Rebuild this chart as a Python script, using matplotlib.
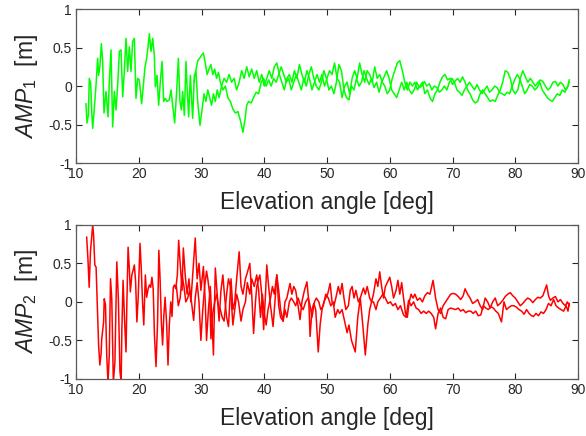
import numpy as np
import matplotlib
matplotlib.use('Agg')
from matplotlib import pyplot as plt

plt.rcParams['font.family'] = ['Liberation Sans', 'DejaVu Sans']
plt.rcParams['mathtext.fontset'] = 'custom'
plt.rcParams['mathtext.rm'] = 'Liberation Sans'
plt.rcParams['mathtext.it'] = 'Liberation Sans:italic'

# ---- AMP1 : first pass (starts at low elevation)
amp1_a_el = [11.59, 11.75, 11.97, 12.12, 12.34, 12.5, 12.66, 12.92, 13.19, 13.45, 13.61, 13.82, 14.04, 14.25,
             14.46, 14.78, 15.1, 15.31, 15.58, 15.84, 16.11, 16.37, 16.64, 16.91, 17.17, 17.44, 17.7, 17.97,
             18.23, 18.5, 18.76, 19.03, 19.3, 19.56, 19.83, 20.09, 20.46, 20.78, 21.0, 21.26, 21.42, 21.69,
             21.95, 22.22, 22.48, 22.64, 22.91, 23.17, 23.44, 23.71, 23.97, 24.24, 24.5, 24.87, 25.14, 25.4,
             25.72, 26.04, 26.31, 26.57, 26.79, 27.0, 27.26, 27.53, 27.69, 27.95, 28.22, 28.59, 28.86, 29.12,
             29.39, 29.76,
             30.1, 30.4, 30.7, 31.0, 31.3, 31.6, 31.9, 32.2, 32.5, 32.8, 33.2, 33.6, 34.0, 34.4, 34.8, 35.2,
             35.6, 36.0, 36.4, 36.8, 37.2, 37.6, 38.0, 38.4, 38.8, 39.2, 39.6, 40.0, 40.4, 40.8, 41.2, 41.6,
             42.0, 42.4, 42.8, 43.2, 43.6, 44.0, 44.4, 44.8, 45.2, 45.6, 46.0, 46.4, 46.8, 47.2, 47.6, 48.0,
             48.4, 48.8, 49.2, 49.6, 50.0, 50.4, 50.8, 51.2, 51.6, 52.0, 52.4, 52.8, 53.2, 53.6, 54.0, 54.4,
             54.8, 55.2, 55.6, 56.0, 56.4, 56.8, 57.2, 57.6, 58.0, 58.4, 58.8, 59.2, 59.6, 60.0, 60.4, 60.8,
             61.2, 61.6, 62.0, 62.4, 62.8, 63.2, 63.6, 64.0, 64.4, 64.8, 65.2, 65.6, 66.0, 66.4, 66.8, 67.2,
             67.6, 68.0, 68.4, 68.8, 69.2, 69.6, 70.0, 70.4, 70.8, 71.2, 71.6, 72.0, 72.4, 72.8, 73.2, 73.6,
             74.0, 74.4, 74.8, 75.2, 75.6, 76.0, 76.4, 76.8, 77.2, 77.6, 78.0, 78.4, 78.8, 79.2, 79.6, 80.0,
             80.4, 80.8, 81.2, 81.6, 82.0, 82.4, 82.8, 83.2, 83.6, 84.0, 84.4, 84.8, 85.2, 85.6, 86.0, 86.4,
             86.8, 87.2, 87.6, 88.0, 88.4, 88.6]
amp1_a = [-0.23, -0.48, -0.38, 0.1, 0.03, -0.33, -0.55, -0.29, 0.01, 0.36, 0.14, 0.27, 0.55, 0.32,
          -0.35, -0.07, -0.4, 0.06, 0.47, -0.53, -0.07, -0.31, 0.01, 0.45, 0.47, -0.14, 0.19, 0.62,
          0.19, 0.51, 0.19, 0.58, 0.62, -0.16, 0.1, 0.08, -0.23, 0.06, 0.25, 0.36, 0.47, 0.68,
          0.45, 0.62, 0.4, -0.01, 0.14, -0.25, 0.06, 0.32, -0.2, -0.16, -0.2, -0.18, -0.05, -0.25,
          -0.48, -0.07, 0.36, -0.2, -0.31, -0.07, -0.38, 0.32, 0.01, -0.4, 0.14, -0.42, 0.14, 0.19,
          -0.2, -0.51,
          -0.3, -0.1, -0.2, -0.05, -0.15, -0.25, -0.1, -0.2, -0.05, -0.15, 0.0, 0.1, 0.05, 0.15, 0.05, 0.1,
          -0.05, 0.05, 0.2, 0.1, 0.25, 0.12, 0.22, 0.1, 0.2, 0.05, 0.15, 0.0, 0.1, 0.2, 0.1, 0.25,
          0.3, 0.15, 0.05, -0.05, 0.1, 0.15, 0.05, 0.2, 0.1, 0.28, 0.15, 0.05, 0.2, 0.1, -0.05, 0.05,
          0.15, 0.05, 0.15, 0.0, 0.1, 0.2, 0.15, 0.3, 0.1, 0.05, -0.15, 0.0, 0.05, -0.1, 0.1, 0.2,
          0.1, 0.3, 0.15, 0.05, 0.2, 0.15, 0.05, 0.25, 0.1, 0.15, 0.05, 0.0, -0.1, -0.05, 0.1, 0.2,
          0.3, 0.33, 0.2, 0.05, -0.05, 0.05, 0.0, 0.05, -0.05, 0.0, 0.05, -0.1, -0.05, -0.15, -0.2, -0.1,
          -0.05, 0.05, 0.12, 0.15, 0.08, 0.1, 0.02, 0.06, 0.1, 0.05, 0.12, 0.05, -0.05, -0.1, -0.18, -0.22,
          -0.2, -0.1, -0.05, -0.1, -0.15, -0.2, -0.18, -0.2, -0.12, -0.05, 0.05, 0.2, 0.18, 0.1, -0.05, -0.1,
          -0.05, 0.1, 0.2, 0.12, 0.05, 0.1, 0.05, 0.0, 0.05, 0.08, 0.06, 0.0, -0.05, -0.02, 0.05, 0.06,
          0.0, 0.05, 0.02, -0.05, 0.0, 0.08]

# ---- AMP1 : second pass
amp1_b_el = [28.8, 29.1, 29.4, 29.7, 30.0, 30.3, 30.6, 30.9, 31.2, 31.5, 31.8, 32.1, 32.4, 32.7, 33.0, 33.4,
             33.8, 34.2, 34.6, 35.0, 35.4, 35.8, 36.2, 36.6, 36.9, 37.2, 37.5, 37.9, 38.3, 38.7, 39.1, 39.5,
             39.9, 40.3, 40.7, 41.1, 41.5, 41.9, 42.3, 42.7, 43.1, 43.5, 43.9, 44.3, 44.7, 45.1, 45.5, 45.9,
             46.3, 46.7, 47.1, 47.5, 47.9, 48.3, 48.7, 49.1, 49.5, 49.9, 50.3, 50.7, 51.1, 51.5, 51.9, 52.3,
             52.7, 53.1, 53.5, 53.9, 54.3, 54.7, 55.1, 55.5, 55.9, 56.3, 56.7, 57.1, 57.5, 57.9, 58.3, 58.7,
             59.1, 59.5, 59.9, 60.3, 60.7, 61.1, 61.5, 61.9, 62.3, 62.7, 63.1, 63.5, 63.9, 64.3, 64.7, 65.1,
             65.5, 65.9, 66.3, 66.7, 67.1, 67.5, 67.9, 68.3, 68.7, 69.1, 69.5, 69.9, 70.3, 70.7, 71.1, 71.5,
             71.9, 72.3, 72.7, 73.1, 73.5, 73.9, 74.3, 74.7, 75.1, 75.5, 75.9, 76.3, 76.7, 77.1, 77.5, 77.9,
             78.3, 78.7, 79.1, 79.5, 79.9, 80.3, 80.7, 81.1, 81.5, 81.9, 82.3, 82.7, 83.1, 83.5, 83.9, 84.3,
             84.7, 85.1, 85.5, 85.9, 86.3, 86.7, 87.1, 87.5, 87.9, 88.3, 88.6]
amp1_b = [0.05, 0.2, 0.33, 0.36, 0.4, 0.43, 0.3, 0.15, 0.22, 0.28, 0.15, 0.22, 0.1, 0.18, 0.05, -0.05,
          0.0, -0.15, -0.2, -0.3, -0.35, -0.33, -0.45, -0.6, -0.45, -0.25, -0.2, -0.22, -0.15, -0.08, -0.1, 0.05,
          0.1, 0.0, 0.08, 0.0, 0.1, 0.05, 0.15, 0.25, 0.15, 0.05, 0.1, -0.05, 0.05, 0.15, 0.05, -0.05,
          0.1, 0.0, 0.15, 0.25, 0.1, 0.0, -0.05, 0.05, 0.2, 0.1, -0.05, 0.0, -0.1, 0.05, 0.28, 0.2,
          -0.05, -0.15, -0.18, 0.0, -0.05, 0.1, 0.0, 0.05, 0.2, 0.1, 0.02, 0.1, -0.02, 0.05, -0.08, 0.05,
          0.12, 0.2, 0.1, -0.05, -0.1, -0.15, -0.05, 0.05, -0.05, 0.05, -0.05, -0.1, -0.05, 0.05, -0.02, 0.0,
          0.06, 0.0, 0.03, -0.05, 0.0, -0.02, -0.08, -0.05, 0.0, -0.05, 0.05, 0.1, 0.05, -0.05, -0.08, -0.12,
          -0.05, 0.0, 0.05, 0.0, -0.05, 0.02, -0.05, -0.1, -0.05, 0.0, -0.08, -0.05, 0.0, -0.02, -0.08, -0.1,
          -0.12, -0.08, -0.1, 0.0, 0.08, 0.15, 0.1, 0.0, -0.1, -0.05, 0.02, 0.0, -0.05, -0.02, 0.05, -0.05,
          -0.1, -0.15, -0.18, -0.2, -0.15, -0.1, -0.12, -0.05, -0.08, -0.02, 0.05]

# ---- AMP2 : first pass
amp2_a_el = [11.7, 11.9, 12.1, 12.3, 12.66, 12.8, 13.0, 13.2, 13.4, 13.6, 13.8, 14.0, 14.1, 14.4, 14.5,
             14.7, 14.9, 15.1, 15.3, 15.5, 15.7, 15.95, 16.2, 16.4, 16.5, 16.75, 17.0, 17.2, 17.3, 17.5,
             17.75, 17.97, 18.1, 18.3, 18.5, 18.66, 18.9, 19.1, 19.3, 19.5, 19.7, 19.9, 20.2, 20.4, 20.6,
             20.8, 21.05, 21.26, 21.5, 21.7, 21.9, 22.1, 22.3, 22.5, 22.75, 23.0, 23.2, 23.4, 23.6, 23.8,
             24.0, 24.2, 24.45, 24.66, 24.87, 25.1, 25.3, 25.5, 25.7, 25.9, 26.15, 26.36,
             26.6, 26.9, 27.1, 27.4, 27.7, 28.0, 28.3, 28.6, 29.0, 29.3, 29.6, 29.9, 30.3, 30.6, 30.8, 31.1,
             31.4, 31.7, 31.9, 32.2, 32.5, 32.8, 33.1, 33.4, 33.7, 34.0, 34.3, 34.7, 35.0, 35.3, 35.6, 36.0,
             36.3, 36.6, 37.0, 37.3, 37.7, 38.0, 38.3, 38.6, 38.8, 39.1, 39.3, 39.6, 39.9, 40.2, 40.4, 40.7,
             41.0, 41.4, 41.7, 42.0, 42.3, 42.6, 43.0, 43.3, 43.6, 44.1, 44.4, 44.7, 45.0, 45.3, 45.7, 46.0,
             46.4, 46.8, 47.1, 47.3, 47.6, 47.9, 48.2, 48.6, 48.9, 49.2, 49.5, 49.8, 50.1, 50.5, 50.8, 51.1,
             51.4, 51.8, 52.1, 52.4, 52.7, 53.0, 53.4, 53.7, 54.0, 54.3, 54.6, 55.0, 55.3, 55.8, 56.1, 56.4,
             56.8, 57.1, 57.4, 57.8, 58.1, 58.4, 58.7, 59.0, 59.3, 59.6, 60.0, 60.3, 60.6, 61.0, 61.3, 61.6,
             61.9, 62.2, 62.5, 62.8, 63.1, 63.4, 63.7, 64.0, 64.4, 64.8, 65.2, 65.6, 66.0, 66.4, 66.9, 67.3,
             67.7, 68.1, 68.5, 68.9, 69.3, 69.7, 70.1, 70.5, 70.9, 71.3, 71.7, 72.0, 72.4, 72.8, 73.2, 73.6,
             74.0, 74.4, 74.8, 75.2, 75.6, 76.0, 76.4, 76.8, 77.2, 77.6, 78.0, 78.4, 78.8, 79.2, 79.6, 80.0,
             80.4, 80.8, 81.2, 81.6, 82.0, 82.4, 82.8, 83.2, 83.6, 84.0, 84.4, 84.7, 85.0, 85.3, 85.6, 86.0,
             86.4, 86.8, 87.2, 87.6, 88.0, 88.3, 88.6]
amp2_a = [0.84, 0.56, 0.19, 0.65, 1.0, 0.87, 0.48, 0.45, -0.04, -0.56, -0.82, -0.67, -0.48, -0.26, 0.04,
          -0.04, -0.7, -1.05, -0.7, 0.3, 0.04, -1.05, -0.78, 0.13, 0.52, 0.04, -0.9, -1.05, -0.39, 0.28,
          -0.26, -0.65, -0.04, 0.71, 0.43, 0.13, 0.35, 0.41, 0.48, 0.26, -0.26, 0.04, 0.76, 0.43, 0.0,
          -0.3, 0.35, 0.06, 0.17, 0.22, 0.19, 0.32, 0.17, -0.43, -0.84, -0.26, 0.67, 0.3, -0.26, -0.56,
          -0.17, 0.06, -0.3, -0.82, -0.3, 0.0, -0.19, 0.19, 0.22, 0.17, 0.35, 0.8,
          0.5, 0.15, 0.7, 0.35, 0.1, 0.3, 0.0, 0.35, 0.83, 0.3, 0.5, 0.15, 0.46, 0.0, -0.5, -0.1,
          0.2, -0.3, -0.69, 0.44, 0.1, -0.25, 0.15, 0.35, 0.05, -0.2, -0.32, 0.3, -0.1, 0.0, 0.3, 0.65,
          0.2, 0.1, 0.3, 0.38, 0.5, 0.1, -0.41, 0.0, 0.2, 0.3, 0.35, 0.1, -0.36, 0.1, 0.48, 0.2,
          -0.05, -0.32, 0.0, 0.35, 0.15, -0.1, -0.25, 0.0, 0.05, 0.24, 0.1, 0.2, 0.15, 0.0, -0.23, 0.0,
          0.15, 0.26, 0.0, -0.45, -0.1, -0.02, -0.1, -0.65, -0.3, -0.1, 0.0, 0.05, 0.1, 0.24, 0.0, -0.05,
          0.05, 0.2, 0.1, 0.24, 0.05, -0.1, -0.05, 0.15, 0.2, 0.05, 0.15, 0.0, 0.05, 0.18, 0.1, 0.2,
          0.05, 0.0, 0.1, 0.3, 0.2, 0.39, 0.2, 0.05, 0.2, 0.25, 0.32, 0.2, 0.05, 0.15, 0.28, 0.1,
          0.25, 0.05, -0.15, -0.2, 0.0, 0.1, 0.05, 0.1, 0.02, 0.05, 0.0, 0.08, 0.12, 0.1, 0.28, 0.05,
          -0.1, -0.15, -0.05, 0.0, 0.05, 0.1, 0.11, 0.1, 0.07, 0.03, 0.08, 0.17, 0.1, 0.05, -0.02, 0.0,
          0.03, -0.05, -0.1, 0.05, 0.0, -0.08, 0.0, 0.05, -0.05, -0.02, 0.02, 0.07, 0.1, 0.12, 0.08, 0.05,
          0.0, -0.05, -0.02, 0.02, 0.05, 0.03, -0.01, 0.03, 0.06, 0.05, 0.08, 0.15, 0.22, 0.08, 0.02, 0.05,
          0.07, 0.0, 0.03, -0.02, -0.05, 0.0, -0.05]

# ---- AMP2 : second pass
amp2_b_el = [26.0, 26.3, 26.6, 26.9, 27.2, 27.5, 27.8, 28.1, 28.4, 28.75, 29.0, 29.3, 29.6, 29.9, 30.2,
             30.5, 30.8, 31.0, 31.3, 31.5, 31.8, 32.1, 32.4, 32.7, 33.0, 33.3, 33.6, 34.0, 34.3, 34.6,
             35.0, 35.3, 35.6, 35.9, 36.3, 36.6, 37.0, 37.3, 37.7, 38.0, 38.4, 38.8, 39.1, 39.4, 39.7,
             40.0, 40.3, 40.6, 41.0, 41.3, 41.6, 42.0, 42.3, 42.6, 43.0, 43.3, 43.6, 44.0, 44.3, 44.7,
             45.0, 45.4, 45.8, 46.2, 46.6, 47.0, 47.3, 47.6, 48.0, 48.3, 48.7, 49.0, 49.4, 49.8, 50.2,
             50.6, 51.0, 51.3, 51.7, 52.0, 52.4, 52.8, 53.2, 53.5, 53.9, 54.5, 54.9, 55.3, 55.7, 56.1,
             56.5, 56.8, 57.1, 57.4, 57.8, 58.1, 58.5, 58.9, 59.3, 59.7, 60.1, 60.5, 60.9, 61.3, 61.7,
             62.2, 62.6, 63.0, 63.4, 63.8, 64.2, 64.6, 65.0, 65.4, 65.8, 66.2, 66.6, 67.0, 67.3, 67.7,
             68.1, 68.5, 68.9, 69.3, 69.7, 70.1, 70.5, 70.9, 71.3, 71.7, 72.1, 72.5, 72.9, 73.3, 73.7,
             74.1, 74.5, 74.9, 75.3, 75.7, 76.1, 76.5, 76.9, 77.3, 77.8, 78.2, 78.6, 79.0, 79.4, 79.8,
             80.2, 80.6, 81.0, 81.4, 81.8, 82.2, 82.6, 82.9, 83.3, 83.7, 84.1, 84.5, 84.9, 85.3, 85.7,
             86.1, 86.5, 86.9, 87.3, 87.7, 88.1, 88.4, 88.6]
amp2_b = [0.2, -0.05, 0.05, 0.35, 0.2, 0.0, 0.05, 0.15, 0.0, -0.24, 0.05, 0.25, 0.0, -0.5, -0.1,
          0.2, 0.4, 0.3, 0.1, -0.48, -0.15, 0.0, 0.1, -0.05, -0.1, -0.2, -0.25, 0.1, 0.3, 0.2,
          -0.3, -0.1, 0.1, 0.0, -0.25, -0.1, 0.0, 0.25, 0.1, 0.3, 0.2, 0.35, 0.15, -0.2, 0.1,
          -0.15, -0.3, -0.1, 0.05, 0.2, 0.1, 0.35, -0.05, -0.2, -0.25, -0.1, -0.2, 0.0, 0.05, 0.0,
          -0.05, 0.05, -0.05, -0.1, 0.0, 0.05, -0.05, -0.2, 0.0, 0.05, 0.0, -0.1, -0.05, 0.1, 0.05,
          -0.05, 0.0, -0.2, -0.1, -0.15, -0.1, -0.25, -0.4, -0.3, -0.5, -0.65, -0.2, 0.05, -0.3, -0.69,
          -0.3, -0.1, 0.0, 0.0, -0.1, 0.0, 0.05, 0.1, 0.05, -0.02, 0.0, -0.05, -0.02, -0.1, -0.05,
          -0.17, -0.2, 0.02, -0.05, 0.0, -0.08, -0.1, -0.15, -0.12, -0.15, -0.12, -0.15, -0.2, -0.35, -0.15,
          -0.08, -0.2, -0.22, -0.1, -0.08, -0.09, -0.1, -0.08, -0.12, -0.1, -0.14, -0.12, -0.12, -0.15, -0.12,
          -0.18, -0.17, -0.05, -0.08, -0.1, -0.06, -0.08, -0.12, -0.15, -0.26, 0.0, -0.1, -0.07, -0.05, -0.05,
          -0.07, -0.1, -0.12, -0.16, -0.1, -0.15, -0.18, -0.19, -0.15, -0.18, -0.13, -0.15, -0.1, -0.02, -0.05,
          0.03, -0.05, -0.08, -0.1, -0.12, -0.05, -0.12, -0.02]

xticks = [10, 20, 30, 40, 50, 60, 70, 80, 90]
yticks = [-1, -0.5, 0, 0.5, 1]
ytick_labels = ['-1', '-0.5', '0', '0.5', '1']

fig = plt.figure(figsize=(5.86, 4.36), dpi=100)
ax1 = fig.add_axes([0.1297, 0.626, 0.8567, 0.3532])
ax2 = fig.add_axes([0.1297, 0.131, 0.8567, 0.3532])

panels = [(ax1, amp1_a_el, amp1_a, amp1_b_el, amp1_b, '#00ff00', r'$AMP_{\mathit{1}}$  [m]'),
          (ax2, amp2_a_el, amp2_a, amp2_b_el, amp2_b, '#ff0000', r'$AMP_{\mathit{2}}$  [m]')]

for ax, xa, ya, xb, yb, col, lab in panels:
    ax.plot(xa, ya, color=col, lw=1.1)
    ax.plot(xb, yb, color=col, lw=1.1)
    ax.set_xlim(10, 90)
    ax.set_ylim(-1, 1)
    ax.set_xticks(xticks)
    ax.set_yticks(yticks)
    ax.set_yticklabels(ytick_labels)
    ax.tick_params(direction='in', top=True, right=True, length=4, width=0.8,
                   labelsize=10, colors='#262626', pad=3)
    for s in ax.spines.values():
        s.set_color('#5a5a5a')
        s.set_linewidth(0.9)
    ax.set_xlabel('Elevation angle [deg]', fontsize=16.5, color='#262626', labelpad=7)
    ax.set_ylabel(lab, fontsize=16.5, color='#262626', labelpad=6)

fig.savefig('out.png', dpi=100)
